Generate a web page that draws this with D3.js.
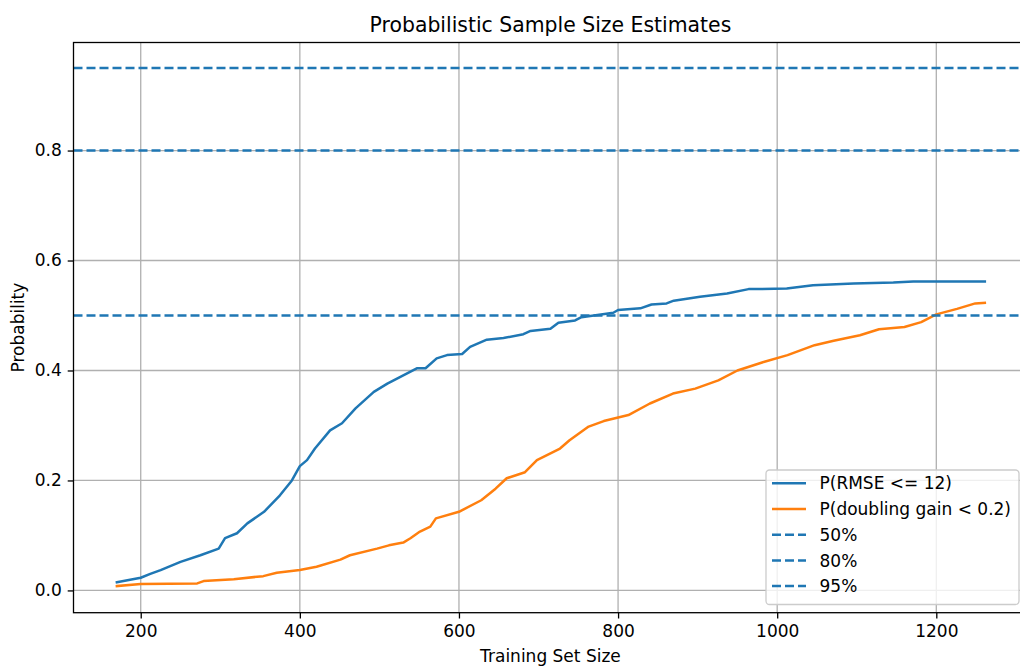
<!DOCTYPE html>
<html>
<head>
<meta charset="utf-8">
<script src="https://cdn.jsdelivr.net/npm/d3@7"></script>
<style>
  body { margin: 0; background: #fff; }
  text { font-family: "DejaVu Sans", sans-serif; fill: #000; }
</style>
</head>
<body>
<div id="chart"></div>
<script>
// sample sizes and probabilities
var rmseX = [170, 185, 200, 212, 225, 250, 275, 298, 306, 321, 334, 355, 375, 390, 400, 409, 419, 438, 453, 470, 493, 510, 530, 547, 558, 572, 585, 604, 614, 635, 656, 681, 690, 715, 725, 746, 754, 794, 800, 828, 842, 861, 870, 903, 937, 964, 1012, 1045, 1096, 1146, 1171, 1261];
var rmseP = [0.015, 0.019, 0.023, 0.030, 0.037, 0.052, 0.064, 0.076, 0.095, 0.104, 0.122, 0.143, 0.173, 0.200, 0.226, 0.237, 0.258, 0.291, 0.304, 0.331, 0.361, 0.376, 0.391, 0.404, 0.404, 0.422, 0.428, 0.430, 0.443, 0.456, 0.459, 0.466, 0.472, 0.476, 0.487, 0.491, 0.497, 0.505, 0.510, 0.513, 0.520, 0.522, 0.527, 0.534, 0.540, 0.548, 0.549, 0.555, 0.558, 0.560, 0.562, 0.562];

var gainX = [170, 200, 271, 279, 317, 354, 371, 400, 421, 451, 463, 497, 512, 530, 539, 551, 564, 571, 600, 628, 646, 660, 683, 698, 727, 739, 763, 782, 813, 840, 869, 897, 926, 950, 984, 1013, 1047, 1071, 1104, 1128, 1160, 1181, 1200, 1226, 1249, 1261];
var gainP = [0.008, 0.0115, 0.0127, 0.017, 0.0205, 0.026, 0.032, 0.037, 0.043, 0.056, 0.064, 0.076, 0.082, 0.087, 0.095, 0.107, 0.116, 0.131, 0.143, 0.164, 0.185, 0.204, 0.215, 0.237, 0.258, 0.273, 0.298, 0.308, 0.319, 0.340, 0.358, 0.367, 0.382, 0.400, 0.416, 0.428, 0.446, 0.454, 0.464, 0.475, 0.479, 0.488, 0.502, 0.512, 0.522, 0.523];

var thresholds = [0.5, 0.8, 0.95];
var thresholdLabels = ["50%", "80%", "95%"];
var xTicks = [200, 400, 600, 800, 1000, 1200];
var yTicks = [0.0, 0.2, 0.4, 0.6, 0.8];
var seriesLabels = ["P(RMSE <= 12)", "P(doubling gain < 0.2)"];
var seriesColors = ["#1f77b4", "#ff7f0e"];

var W = 1020, H = 666;
// plot box (right edge sits just past the window, as in the reference)
var box = { left: 73.5, right: 1027.4, top: 42.5, bottom: 612.7 };
var fs = 17;

var svg = d3.select("#chart")
    .append("svg")
    .attr("width", W)
    .attr("height", H);

var x = d3.scaleLinear().domain([115.5, 1314.5]).range([box.left, box.right]);
var y = d3.scaleLinear().domain([-0.0405, 0.9965]).range([box.bottom, box.top]);

svg.append("clipPath").attr("id", "plotclip")
    .append("rect")
    .attr("x", box.left).attr("y", box.top)
    .attr("width", box.right - box.left).attr("height", box.bottom - box.top);

// grid
svg.append("g")
    .selectAll("line")
    .data(xTicks)
    .join("line")
    .attr("x1", function(d) { return x(d); })
    .attr("x2", function(d) { return x(d); })
    .attr("y1", box.top).attr("y2", box.bottom)
    .attr("stroke", "#b0b0b0").attr("stroke-width", 1.3);

svg.append("g")
    .selectAll("line")
    .data(yTicks)
    .join("line")
    .attr("x1", box.left).attr("x2", box.right)
    .attr("y1", function(d) { return y(d); })
    .attr("y2", function(d) { return y(d); })
    .attr("stroke", "#b0b0b0").attr("stroke-width", 1.3);

// curves
var plot = svg.append("g").attr("clip-path", "url(#plotclip)");

var line = d3.line()
    .x(function(d) { return x(d[0]); })
    .y(function(d) { return y(d[1]); });

var series = [d3.zip(rmseX, rmseP), d3.zip(gainX, gainP)];

plot.append("g")
    .selectAll("path")
    .data(series)
    .join("path")
    .attr("d", line)
    .attr("fill", "none")
    .attr("stroke", function(d, i) { return seriesColors[i]; })
    .attr("stroke-width", 2.5)
    .attr("stroke-linejoin", "round")
    .attr("stroke-linecap", "square");

// threshold lines
plot.append("g")
    .selectAll("line")
    .data(thresholds)
    .join("line")
    .attr("x1", box.left).attr("x2", box.right)
    .attr("y1", function(d) { return y(d); })
    .attr("y2", function(d) { return y(d); })
    .attr("stroke", "#1f77b4")
    .attr("stroke-width", 2.5)
    .attr("stroke-dasharray", "9,4");

// axes
var xAxis = svg.append("g")
    .attr("transform", "translate(0," + box.bottom + ")")
    .call(d3.axisBottom(x).tickValues(xTicks).tickSize(5.8).tickPadding(6.5).tickFormat(d3.format("d")));
var yAxis = svg.append("g")
    .attr("transform", "translate(" + box.left + ",0)")
    .call(d3.axisLeft(y).tickValues(yTicks).tickSize(5.8).tickPadding(6).tickFormat(d3.format(".1f")));

[xAxis, yAxis].forEach(function(a) {
    a.select(".domain").remove();
    a.selectAll("line").attr("stroke", "#000").attr("stroke-width", 1.3);
    a.selectAll("text")
        .attr("font-family", "DejaVu Sans")
        .attr("font-size", fs)
        .attr("fill", "#000");
});

// spines
svg.append("rect")
    .attr("x", box.left).attr("y", box.top)
    .attr("width", box.right - box.left).attr("height", box.bottom - box.top)
    .attr("fill", "none")
    .attr("stroke", "#000")
    .attr("stroke-width", 1.3);

// titles
svg.append("text")
    .attr("x", (box.left + box.right) / 2).attr("y", 32)
    .attr("text-anchor", "middle")
    .attr("font-size", fs * 1.2)
    .text("Probabilistic Sample Size Estimates");

svg.append("text")
    .attr("x", (box.left + box.right) / 2).attr("y", 661.5)
    .attr("text-anchor", "middle")
    .attr("font-size", fs)
    .text("Training Set Size");

svg.append("text")
    .attr("transform", "translate(24," + ((box.top + box.bottom) / 2) + ") rotate(-90)")
    .attr("text-anchor", "middle")
    .attr("font-size", fs)
    .text("Probability");

// legend
var legendItems = seriesLabels.map(function(l, i) { return { label: l, color: seriesColors[i], dash: null }; })
    .concat(thresholdLabels.map(function(l) { return { label: l, color: "#1f77b4", dash: "9,4" }; }));

var legend = svg.append("g");
legend.append("rect")
    .attr("x", 766).attr("y", 470)
    .attr("width", 253).attr("height", 134.5)
    .attr("rx", 3.5)
    .attr("fill", "#fff").attr("fill-opacity", 0.8)
    .attr("stroke", "#cccccc").attr("stroke-width", 1.3);

var rows = legend.selectAll("g")
    .data(legendItems)
    .join("g")
    .attr("transform", function(d, i) { return "translate(0," + (483.3 + i * 25.7) + ")"; });

rows.append("line")
    .attr("x1", 772).attr("x2", 806)
    .attr("stroke", function(d) { return d.color; })
    .attr("stroke-width", 2.5)
    .attr("stroke-dasharray", function(d) { return d.dash; });

rows.append("text")
    .attr("x", 819.5).attr("dy", "0.36em")
    .attr("font-size", fs)
    .text(function(d) { return d.label; });
</script>
</body>
</html>
